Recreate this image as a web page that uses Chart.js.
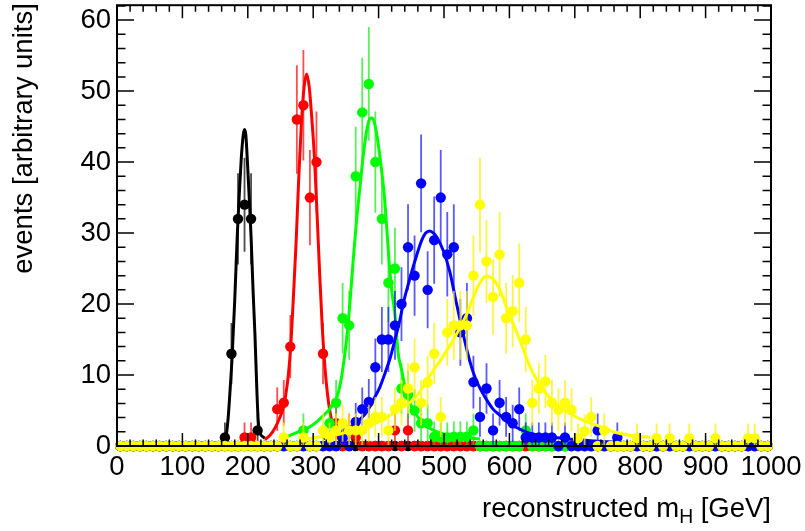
<!DOCTYPE html>
<html><head><meta charset="utf-8">
<script src="https://cdn.jsdelivr.net/npm/chart.js@4/dist/chart.umd.min.js"></script>
<style>html,body{margin:0;padding:0;background:#fff}</style>
</head><body>
<canvas id="c" width="805" height="531"></canvas>
<script>
// ---- binning (100 bins of 10 GeV from 0 to 1000) ----
const BIN_LOW = 0, BIN_WIDTH = 10, N_BINS = 100;
const xTickLabels = [0,100,200,300,400,500,600,700,800,900,1000];
const yTickLabels = [0,10,20,30,40,50,60];

// ---- histogram contents, one value per bin ----
const mH200 = [
 0,0,0,0,0,0,0,0,0,0,
 0,0,0,0,0,0,1.2,13,32,34,
 32,2.2,0,0,0,0,0,0,0,0,
 0,0,0,0,0,0,0,0,0,0,
 0,0,0,0,0,0,0,0,0,0,
 0,0,0,0,0,0,0,0,0,0,
 0,0,0,0,0,0,0,0,0,0,
 0,0,0,0,0,0,0,0,0,0,
 0,0,0,0,0,0,0,0,0,0,
 0,0,0,0,0,0,0,0,0,0];
const mH300 = [
 0,0,0,0,0,0,0,0,0,0,
 0,0,0,0,0,0,0,0,0,1.2,
 1.2,0,0,0,5.2,6.1,14,46,48,35,
 40,13,0,3.2,0,2.2,1.2,0,0,0,
 0,0,2.2,0,2.2,0,0,0,0,0,
 0,0,0,0,0,0,0,0,0,0,
 0,0,0,0,0,0,0,0,0,0,
 0,0,0,0,0,0,0,0,0,0,
 0,0,0,0,0,0,0,0,0,0,
 0,0,0,0,0,0,0,0,0,0];
const mH400 = [
 0,0,0,0,0,0,0,0,0,0,
 0,0,0,0,0,0,0,0,0,0,
 0,0,0,0,0,0,0,0,2.2,0,
 0,0,3.2,6.1,18,17,38,47,51,40,
 32,23,25,8.1,7.2,5,3.2,3.2,1.3,1.2,
 1.2,1.3,1.3,1.3,2.2,0,0,0,0,0,
 0,0,2.2,0,0,0,0,0,0,0,
 0,0,0,0,0,0,0,0,0,0,
 0,0,0,0,0,0,0,0,0,0,
 0,0,0,0,0,0,0,0,0,0];
const mH500 = [
 0,0,0,0,0,0,0,0,0,0,
 0,0,0,0,0,0,0,0,0,0,
 0,0,0,0,0,0,0,0,0,0,
 0,0,0,0,1.1,0,3.4,5.2,6.2,11.1,
 15,15,17,20,28,24,37,22,29,35,
 27,28,16,18,9,4.1,8.1,2.2,6.1,4.1,
 3.2,5.2,1.2,1.2,1.2,1.2,1.2,0,1.2,0,
 0,0,0,2.2,0,0,1.2,0,0,0,
 0,0,0,0,0,0,0,0,0,0,
 0,0,0,0,0,0,0,0,0,0];
const mH600 = [
 0,0,0,0,0,0,0,0,0,0,
 0,0,0,0,0,0,0,0,0,0,
 0,0,0,0,0,1.2,0,0,1.2,0,
 0,2.2,1.2,2.2,3.2,2.2,2.2,2.2,3.2,4.1,
 4.1,2.2,5.2,6.1,8.1,11.1,6.1,9,13,4.1,
 16,17,17,17,24,34,26,21,27,18,
 19,23,15,6.1,8.1,9.1,6.1,5.1,6.1,5.1,
 1.1,2.1,4.1,0,2.2,0,0,0,0,1.1,
 0,0,1.1,0,1.1,0,0,1.1,0,0,
 0,1.1,0,0,0,0,1.1,1.1,0,0];

// ---- fitted curves ----
const fit200X = [164,167,170,173,176,180,184,187,190,193,195,197,200,203,205,208,211,214,216,219,223,226];
const fit200Y = [0.6,1.5,4,8,12.5,20.5,29.9,35.5,40.5,43.8,44.6,43.8,39,33.5,29.5,22,15.5,7.5,3.5,1.8,1.3,1.1];
const fit300X = [226,234,242,248,254,258,262,266,270,274,278,282,286,290,294,298,302,306,310,314,318,322,326,331,336,341];
const fit300Y = [0.9,1.5,2.6,3.8,5.3,7.2,10,14.5,21.5,29,38,45.5,50.5,52.4,50.5,46,40.5,32.5,24,16.5,11,7.2,4.6,2.6,1.5,0.8];
const fit400X = [262,280,295,310,325,336,342,347,351,356,361,366,371,376,381,386,389,392,396,400,405,409,413,416,420,425,430,435,440,446,452,460,470,482,495,510,530,555];
const fit400Y = [1.4,2.1,2.7,3.8,5.2,6.8,9,12,15,20,26,31.5,36,40.5,44,46,46.2,46,44.5,42.2,38.5,35,30,26,22,18.5,13,10.8,8.5,6.7,5.2,4.1,3,2.3,1.8,1.5,1.2,1.0];
const fit500X = [315,330,345,360,372,382,392,402,410,418,425,432,438,446,456,466,472,478,484,489,499,509,517,524,530,537,545,553,562,575,586,598,611,625,640,660,680,700,730,769];
const fit500Y = [1.0,1.5,2.1,2.9,3.8,4.8,6.5,8.3,10.3,12.5,15,17.5,20.2,23,26.2,29,30,30.3,30,29.4,27.5,24.5,21,18,15.5,12.8,10.3,8.5,7,5.2,4.3,3.3,2.6,2.0,1.6,1.3,1.1,0.9,0.7,0.5];
const fit600X = [280,310,336,361,387,412,432,453,463,474,484,494,504,514,524,535,545,555,564,575,586,596,606,616,631,642,657,672,685,698,710,734,759,784,815];
const fit600Y = [0.8,1.3,1.6,2.2,2.9,4.0,5.2,6.5,7.6,9.3,10.7,12,13.4,14.9,16.6,18.6,21,23,23.9,23.5,21.9,19.5,17.2,14.9,11.3,9.3,7.3,5.9,5.0,4.3,3.7,2.9,2.0,1.5,1.2];

const colors = {m200:'#000000', m300:'#ff0000', m400:'#00ff00', m500:'#0000ff', m600:'#ffff00'};
const errColors = {m200:'rgba(0,0,0,0.7)', m300:'rgba(255,0,0,0.7)', m400:'rgba(0,230,0,0.65)', m500:'rgba(0,0,255,0.65)', m600:'rgba(255,240,0,0.75)'};

const FONT = "'Liberation Sans', Arial, Helvetica, sans-serif";
const FSIZE = 27.5;

function histPoints(vals){ return vals.map((v,i)=>({x: BIN_LOW + BIN_WIDTH*(i+0.5), y: v})); }
function histErrors(vals){ return vals.map(v=> v>0 ? Math.sqrt(1.2*v+3) : 0); }
function curvePoints(xs, ys){ return xs.map((x,i)=>({x:x, y:ys[i]})); }

const series = [
  {key:'m200', vals:mH200, fx:fit200X, fy:fit200Y},
  {key:'m300', vals:mH300, fx:fit300X, fy:fit300Y},
  {key:'m400', vals:mH400, fx:fit400X, fy:fit400Y},
  {key:'m500', vals:mH500, fx:fit500X, fy:fit500Y},
  {key:'m600', vals:mH600, fx:fit600X, fy:fit600Y},
];
const datasets = [];
let ord = 20;
series.forEach(s=>{
  datasets.push({type:'scatter', data: histPoints(s.vals), errors: histErrors(s.vals), errColor: errColors[s.key],
    backgroundColor: colors[s.key], borderColor: colors[s.key], borderWidth:0, pointRadius:5.2, pointHoverRadius:5.2,
    showLine:false, clip:false, order: ord--});
  datasets.push({type:'scatter', data: curvePoints(s.fx, s.fy), borderColor: colors[s.key], borderWidth:3,
    pointRadius:0, showLine:true, cubicInterpolationMode:'monotone', fill:false, order: ord--});
});

const errorBars = {
  id:'errorBars',
  beforeDatasetDraw(chart, args){
    const ds = chart.data.datasets[args.index];
    if(!ds.errors) return;
    const ctx = chart.ctx, a = chart.chartArea, xs = chart.scales.x, ys = chart.scales.y;
    ctx.save();
    ctx.beginPath(); ctx.rect(a.left, a.top, a.right-a.left, a.bottom-a.top); ctx.clip();
    ctx.strokeStyle = ds.errColor; ctx.lineWidth = 1.8;
    ds.data.forEach((p,i)=>{
      const e = ds.errors[i]; if(!e) return;
      const px = xs.getPixelForValue(p.x);
      ctx.beginPath();
      ctx.moveTo(px, ys.getPixelForValue(p.y - e));
      ctx.lineTo(px, ys.getPixelForValue(p.y + e));
      ctx.stroke();
    });
    ctx.restore();
  }
};

const frame = {
  id:'frame',
  afterDatasetsDraw(chart){
    const ctx = chart.ctx, a = chart.chartArea, xs = chart.scales.x, ys = chart.scales.y;
    ctx.save();
    ctx.strokeStyle = '#000'; ctx.lineWidth = 1.5;
    ctx.beginPath();
    for(let v=0; v<=1000; v+=20){
      const px = xs.getPixelForValue(v);
      const len = (v % 100 === 0) ? 13 : 6.6;
      ctx.moveTo(px, a.bottom); ctx.lineTo(px, a.bottom - len);
      ctx.moveTo(px, a.top); ctx.lineTo(px, a.top + len);
    }
    for(let v=0; v<=62; v+=2){
      const py = ys.getPixelForValue(v);
      const len = (v % 10 === 0) ? 17 : 8.5;
      ctx.moveTo(a.left, py); ctx.lineTo(a.left + len, py);
      ctx.moveTo(a.right, py); ctx.lineTo(a.right - len, py);
    }
    ctx.stroke();
    ctx.lineWidth = 2;
    ctx.strokeRect(a.left, a.top, a.right-a.left, a.bottom-a.top);
    ctx.restore();
  },
  afterDraw(chart){
    const ctx = chart.ctx, a = chart.chartArea;
    ctx.save();
    ctx.fillStyle = '#000';
    ctx.textBaseline = 'alphabetic';
    const big = FSIZE + 'px ' + FONT, small = (FSIZE*0.7).toFixed(1) + 'px ' + FONT;
    const t1 = 'reconstructed m', t2 = 'H', t3 = ' [GeV]';
    ctx.font = big; const w1 = ctx.measureText(t1).width, w3 = ctx.measureText(t3).width;
    ctx.font = small; const w2 = ctx.measureText(t2).width;
    let x0 = a.right - (w1 + w2 + w3);
    const yb = 517;
    ctx.font = big; ctx.fillText(t1, x0, yb);
    ctx.font = small; ctx.fillText(t2, x0 + w1, yb + 6);
    ctx.font = big; ctx.fillText(t3, x0 + w1 + w2, yb);
    ctx.translate(32, a.top - 2);
    ctx.rotate(-Math.PI/2);
    ctx.textAlign = 'right';
    ctx.font = big;
    ctx.fillText('events [arbitrary units]', 0, 0);
    ctx.restore();
  }
};

new Chart(document.getElementById('c'), {
  type:'scatter',
  data:{datasets},
  plugins:[errorBars, frame],
  options:{
    responsive:false, animation:false, devicePixelRatio:1,
    layout:{padding:{top:5, right:34, left:0, bottom:0}},
    plugins:{legend:{display:false}, tooltip:{enabled:false}},
    events:[],
    scales:{
      x:{type:'linear', min:xTickLabels[0], max:xTickLabels[xTickLabels.length-1],
        grid:{display:false, drawTicks:false}, border:{display:false},
        ticks:{stepSize:100, includeBounds:false, maxRotation:0, autoSkip:false, padding:5,
          color:'#000', font:{family:FONT, size:FSIZE}, callback:(v)=>String(v)},
        afterFit(s){ s.height = 85; s.paddingLeft = 0; s.paddingRight = 0; }
      },
      y:{type:'linear', min:yTickLabels[0], max:62.1,
        grid:{display:false, drawTicks:false}, border:{display:false},
        ticks:{stepSize:10, includeBounds:false, padding:6, color:'#000', font:{family:FONT, size:FSIZE}, callback:(v)=>String(v)},
        afterFit(s){ s.width = 117; s.paddingTop = 0; s.paddingBottom = 0; }
      }
    }
  }
});
</script>
</body></html>
